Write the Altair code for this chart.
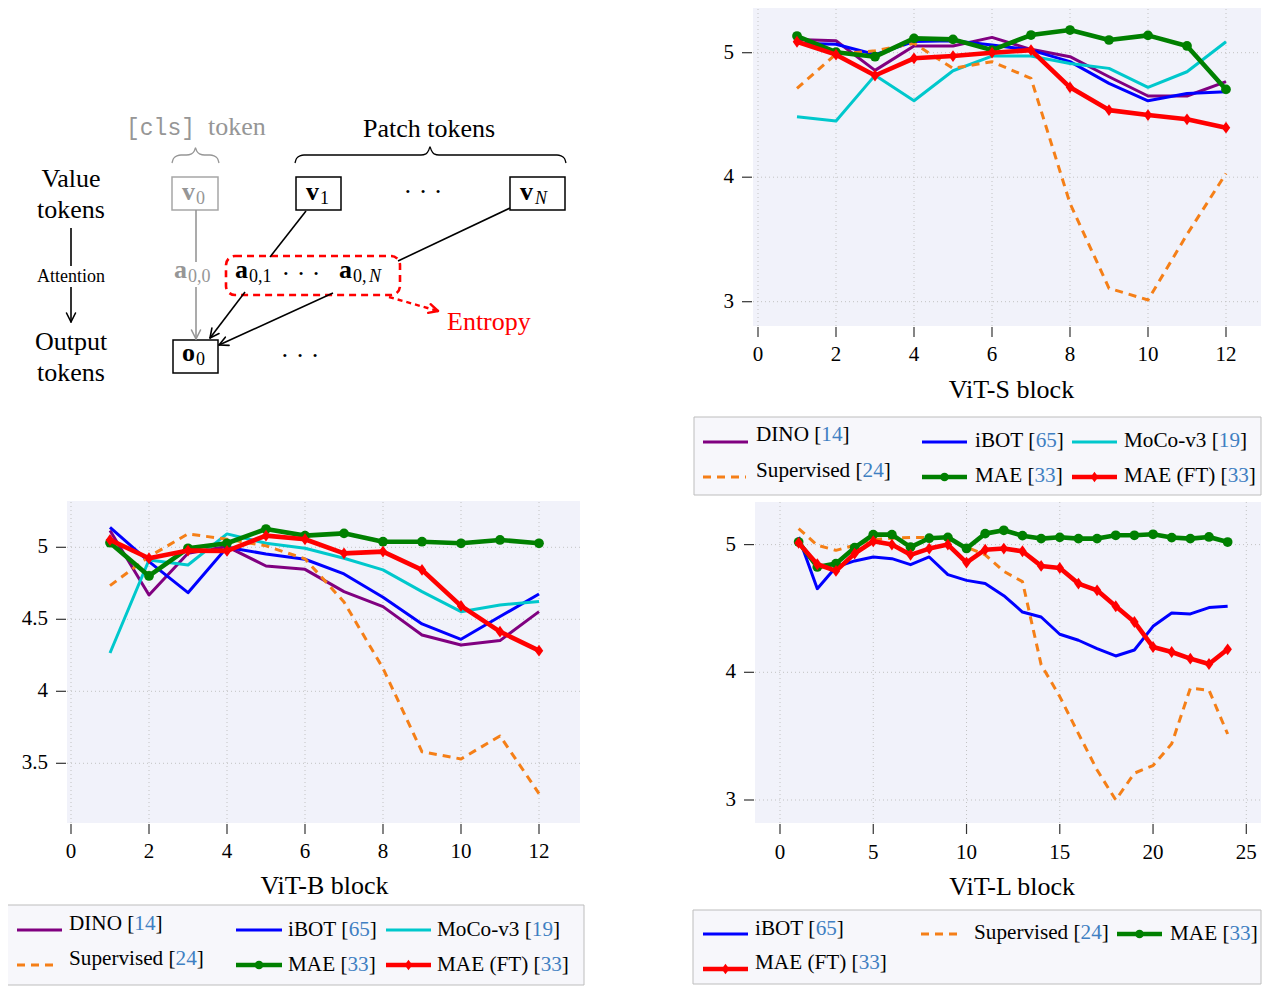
import math
import altair as alt
import pandas as pd

# ---------------- data ----------------
blocks_s = list(range(1, 13))
s_dino = [5.107, 5.096, 4.858, 5.054, 5.054, 5.123, 5.027, 4.968, 4.807, 4.652, 4.652, 4.767]
s_ibot = [5.075, 5.068, 4.985, 5.090, 5.096, 5.062, 5.021, 4.928, 4.754, 4.614, 4.673, 4.687]
s_moco = [4.486, 4.451, 4.818, 4.614, 4.855, 4.973, 4.973, 4.914, 4.874, 4.722, 4.847, 5.088]
s_sup = [4.714, 4.990, 5.015, 5.075, 4.874, 4.928, 4.794, 3.790, 3.108, 3.014, 3.540, 4.030]
s_mae = [5.134, 5.004, 4.968, 5.115, 5.107, 5.021, 5.142, 5.182, 5.102, 5.139, 5.054, 4.705]
s_maeft = [5.088, 4.984, 4.817, 4.955, 4.973, 5.000, 5.021, 4.722, 4.539, 4.499, 4.465, 4.398]

blocks_b = list(range(1, 13))
b_dino = [5.116, 4.669, 4.958, 5.005, 4.870, 4.847, 4.692, 4.588, 4.391, 4.322, 4.352, 4.553]
b_ibot = [5.139, 4.900, 4.685, 5.000, 4.954, 4.917, 4.815, 4.653, 4.468, 4.361, 4.519, 4.676]
b_moco = [4.266, 4.912, 4.877, 5.093, 5.028, 4.993, 4.924, 4.843, 4.692, 4.553, 4.600, 4.623]
b_sup = [4.734, 4.935, 5.093, 5.056, 5.010, 4.920, 4.620, 4.160, 3.580, 3.530, 3.690, 3.290]
b_mae = [5.032, 4.801, 4.993, 5.028, 5.127, 5.081, 5.097, 5.039, 5.039, 5.028, 5.051, 5.028]
b_maeft = [5.051, 4.924, 4.977, 4.975, 5.081, 5.056, 4.958, 4.970, 4.843, 4.593, 4.414, 4.282]

blocks_l = list(range(1, 25))
l_ibot = [5.060, 4.655, 4.825, 4.872, 4.903, 4.890, 4.843, 4.903, 4.765, 4.720, 4.695, 4.600,
          4.472, 4.433, 4.298, 4.251, 4.186, 4.128, 4.175, 4.360, 4.464, 4.457, 4.507, 4.517]
l_sup = [5.125, 4.995, 4.955, 4.995, 5.039, 5.050, 5.055, 5.055, 5.040, 4.980, 4.920, 4.790,
         4.710, 4.060, 3.810, 3.520, 3.235, 3.000, 3.210, 3.270, 3.440, 3.875, 3.860, 3.517]
l_mae = [5.020, 4.825, 4.851, 4.976, 5.078, 5.078, 4.980, 5.050, 5.057, 4.970, 5.086, 5.112,
         5.070, 5.047, 5.057, 5.047, 5.047, 5.073, 5.073, 5.081, 5.055, 5.047, 5.060, 5.020]
l_maeft = [5.013, 4.846, 4.794, 4.929, 5.026, 5.000, 4.920, 4.969, 5.000, 4.859, 4.960, 4.969,
           4.948, 4.833, 4.817, 4.695, 4.642, 4.517, 4.394, 4.198, 4.159, 4.107, 4.065, 4.180]

ticks_sb_x = [0, 2, 4, 6, 8, 10, 12]
ticks_l_x = [0, 5, 10, 15, 20, 25]
ticks_s_y = [3, 4, 5]
labels_s_y = ["3", "4", "5"]
ticks_b_y = [3.5, 4, 4.5, 5]
labels_b_y = ["3.5", "4", "4.5", "5"]

# ---------------- styles ----------------
FONT = "Liberation Serif"
MONO = "Liberation Mono"
PLOT_BG = "#f1f2fa"
LEG_BG = "#f7f7fb"
LEG_EDGE = "#bdbdbd"
GRID = "#c2c2c2"
CITE = "#3f7fc2"
GRAY = "#969696"
RED = "#ff0000"

STY = {
    "DINO": {"color": "#800080", "width": 3.0, "ref": "14"},
    "iBOT": {"color": "#0000ff", "width": 3.0, "ref": "65"},
    "MoCo-v3": {"color": "#00c8cc", "width": 3.0, "ref": "19"},
    "Supervised": {"color": "#f57f17", "width": 3.0, "ref": "24", "dash": [8, 6]},
    "MAE": {"color": "#008000", "width": 4.6, "ref": "33", "marker": "circle"},
    "MAE (FT)": {"color": "#ff0000", "width": 4.6, "ref": "33", "marker": "diamond"},
}
DIAMOND = "M0,-1L0.72,0L0,1L-0.72,0Z"
MSHAPE = {"circle": "circle", "diamond": DIAMOND}
MSIZE = {"circle": 95, "diamond": 140}

OFF = 8
WID, HEI = 1254, 978

PANELS = [
    dict(xv=(0, 12), xp=(758, 1226), yv=(3, 5), yp=(301.7, 52.7), box=(753, 1261, 8, 326),
         xticks=ticks_sb_x, yticks=ticks_s_y, ylabels=labels_s_y,
         title="ViT-S block", title_x=6.5, title_dy=64, lab_dy=29,
         series=[("DINO", blocks_s, s_dino), ("iBOT", blocks_s, s_ibot),
                 ("MoCo-v3", blocks_s, s_moco), ("Supervised", blocks_s, s_sup),
                 ("MAE", blocks_s, s_mae), ("MAE (FT)", blocks_s, s_maeft)]),
    dict(xv=(0, 12), xp=(71, 539), yv=(3.5, 5), yp=(763.3, 547.3), box=(67, 580, 501, 823),
         xticks=ticks_sb_x, yticks=ticks_b_y, ylabels=labels_b_y,
         title="ViT-B block", title_x=6.5, title_dy=63, lab_dy=29,
         series=[("DINO", blocks_b, b_dino), ("iBOT", blocks_b, b_ibot),
                 ("MoCo-v3", blocks_b, b_moco), ("Supervised", blocks_b, b_sup),
                 ("MAE", blocks_b, b_mae), ("MAE (FT)", blocks_b, b_maeft)]),
    dict(xv=(0, 25), xp=(780, 1246.3), yv=(3, 5), yp=(800, 544.6), box=(755, 1261, 502, 823),
         xticks=ticks_l_x, yticks=ticks_s_y, ylabels=labels_s_y,
         title="ViT-L block", title_x=12.45, title_dy=64, lab_dy=30,
         series=[("iBOT", blocks_l, l_ibot), ("Supervised", blocks_l, l_sup),
                 ("MAE", blocks_l, l_mae), ("MAE (FT)", blocks_l, l_maeft)]),
]

LEGENDS = [
    dict(box=(694, 417, 1261, 495), items=[
        ("DINO", 703, 748, 442, 756, 435), ("iBOT", 922, 967, 442, 975, 441),
        ("MoCo-v3", 1072, 1117, 442, 1124, 441), ("Supervised", 703, 746, 477, 756, 471),
        ("MAE", 922, 967, 477, 975, 476), ("MAE (FT)", 1072, 1117, 477, 1124, 476)]),
    dict(box=(7, 905, 584, 985), items=[
        ("DINO", 17, 62, 930, 69, 924), ("iBOT", 236, 282, 930, 288, 930),
        ("MoCo-v3", 386, 431, 930, 437, 930), ("Supervised", 17, 59, 965, 69, 959),
        ("MAE", 236, 282, 965, 288, 965), ("MAE (FT)", 386, 431, 965, 437, 965)]),
    dict(box=(693, 910, 1261, 984), items=[
        ("iBOT", 703, 748, 934, 755, 929), ("Supervised", 921, 963, 934, 974, 933),
        ("MAE", 1117, 1162, 934, 1170, 934), ("MAE (FT)", 703, 748, 969, 755, 963)]),
]

# Times-like glyph widths (per 1000 em) for placing mixed-colour legend text
GW = {' ': 250, '[': 333, ']': 333, '(': 333, ')': 333, '-': 333,
      'A': 722, 'B': 667, 'C': 667, 'D': 722, 'E': 611, 'F': 556, 'I': 333, 'M': 889,
      'N': 722, 'O': 722, 'S': 556, 'T': 611, 'a': 444, 'b': 500, 'c': 444, 'd': 500,
      'e': 444, 'i': 278, 'k': 500, 'l': 278, 'n': 500, 'o': 500, 'p': 500, 'r': 333,
      's': 389, 't': 278, 'u': 500, 'v': 500, 'y': 500}


def tw(s, size):
    return sum(GW.get(c, 500) for c in s) * size / 1000.0


def inv(vs, ps, p):
    return vs[0] + (p - ps[0]) * (vs[1] - vs[0]) / (ps[1] - ps[0])


# ---------------- panels ----------------
def panel_layers(P):
    xs = alt.Scale(domain=list(P["xv"]), range=[P["xp"][0] - OFF, P["xp"][1] - OFF], nice=False, zero=False)
    ys = alt.Scale(domain=list(P["yv"]), range=[P["yp"][0] - OFF, P["yp"][1] - OFF], nice=False, zero=False)
    X = lambda f: alt.X(f + ":Q", scale=xs, axis=None)
    Y = lambda f: alt.Y(f + ":Q", scale=ys, axis=None)
    L, R, T, B = P["box"]
    x1, x2 = inv(P["xv"], P["xp"], L), inv(P["xv"], P["xp"], R)
    yb, yt = inv(P["yv"], P["yp"], B), inv(P["yv"], P["yp"], T)
    out = []
    bg = pd.DataFrame({"a": [x1], "b": [x2], "c": [yb], "d": [yt]})
    out.append(alt.Chart(bg).mark_rect(color=PLOT_BG).encode(x=X("a"), x2="b", y=Y("c"), y2="d"))
    gx = pd.DataFrame({"v": P["xticks"], "c": yb, "d": yt})
    out.append(alt.Chart(gx).mark_rule(color=GRID, strokeWidth=1, strokeDash=[1, 3])
               .encode(x=X("v"), y=Y("c"), y2="d"))
    gy = pd.DataFrame({"v": P["yticks"], "a": x1, "b": x2})
    out.append(alt.Chart(gy).mark_rule(color=GRID, strokeWidth=1, strokeDash=[1, 3])
               .encode(y=Y("v"), x=X("a"), x2="b"))
    yt_df = pd.DataFrame({"v": P["yticks"], "a": x1, "t": P["ylabels"]})
    out.append(alt.Chart(yt_df).mark_rule(color="#333333", strokeWidth=1.2, xOffset=-11, x2Offset=-1)
               .encode(x=X("a"), x2="a", y=Y("v")))
    out.append(alt.Chart(yt_df).mark_text(align="right", baseline="middle", dx=-19, font=FONT,
                                          fontSize=21, color="black")
               .encode(x=X("a"), y=Y("v"), text="t:N"))
    xt_df = pd.DataFrame({"v": P["xticks"], "c": yb, "t": [str(v) for v in P["xticks"]]})
    out.append(alt.Chart(xt_df).mark_rule(color="#333333", strokeWidth=1.2, yOffset=1, y2Offset=11)
               .encode(x=X("v"), y=Y("c"), y2="c"))
    out.append(alt.Chart(xt_df).mark_text(align="center", baseline="middle", dy=P["lab_dy"], font=FONT,
                                          fontSize=21, color="black")
               .encode(x=X("v"), y=Y("c"), text="t:N"))
    ti = pd.DataFrame({"v": [P["title_x"]], "c": [yb], "t": [P["title"]]})
    out.append(alt.Chart(ti).mark_text(align="center", baseline="middle", dy=P["title_dy"], font=FONT,
                                       fontSize=26, color="black")
               .encode(x=X("v"), y=Y("c"), text="t:N"))
    for name, xsv, vals in P["series"]:
        st = STY[name]
        df = pd.DataFrame({"x": xsv, "y": vals})
        kw = dict(color=st["color"], strokeWidth=st["width"], strokeJoin="round")
        if "dash" in st:
            kw["strokeDash"] = st["dash"]
        out.append(alt.Chart(df).mark_line(**kw).encode(x=X("x"), y=Y("y")))
        if "marker" in st:
            m = st["marker"]
            out.append(alt.Chart(df).mark_point(shape=MSHAPE[m], filled=True, size=MSIZE[m],
                                                color=st["color"], opacity=1)
                       .encode(x=X("x"), y=Y("y")))
    return out


# ---------------- page-coordinate annotations (diagram, legends) ----------------
PXS = alt.Scale(domain=[OFF, OFF + WID], range=[0, WID], nice=False, zero=False)
PYS = alt.Scale(domain=[OFF, OFF + HEI], range=[0, HEI], nice=False, zero=False)


def px(f):
    return alt.X(f + ":Q", scale=PXS, axis=None)


def py(f):
    return alt.Y(f + ":Q", scale=PYS, axis=None)


TEXTS, SEGS, RECTS, PATHS, POINTS = [], [], [], [], []


def add_text(t, x, y, size=26, color="black", weight="normal", font=FONT, style="normal",
             align="left", baseline="alphabetic"):
    TEXTS.append(dict(t=t, x=x, y=y, key=(size, color, weight, font, style, align, baseline)))


def add_seg(x, y, x2, y2, color="black", width=1.6, dash=None, cap="butt"):
    SEGS.append(dict(x=x, y=y, x2=x2, y2=y2, key=(color, width, tuple(dash) if dash else None, cap)))


def add_arrow(x1, y1, x2, y2, color="black", width=1.6, dash=None, L=9.0, Wd=4.5):
    add_seg(x1, y1, x2, y2, color, width, dash)
    n = math.hypot(x2 - x1, y2 - y1)
    ux, uy = (x2 - x1) / n, (y2 - y1) / n
    bx, by = x2 - L * ux, y2 - L * uy
    nx, ny = -uy, ux
    add_seg(x2, y2, bx + Wd * nx, by + Wd * ny, color, width, None, "round")
    add_seg(x2, y2, bx - Wd * nx, by - Wd * ny, color, width, None, "round")


def add_rect(x, y, x2, y2, fill="white", stroke="black", width=1.5, dash=None, radius=0, fop=1.0):
    RECTS.append(dict(x=x, y=y, x2=x2, y2=y2, fill=fill, stroke=stroke, width=width,
                      dash=dash, radius=radius, fop=fop))


def add_brace(x0, x1, xm, yb, ym, yt, color):
    pts = [(x0, yb), (x0 + 1.5, yb - 4.5), (x0 + 5, ym + 0.8), (x0 + 9, ym),
           (xm - 9, ym), (xm - 4, ym - 1.2), (xm - 1.2, yt + 3), (xm, yt),
           (xm + 1.2, yt + 3), (xm + 4, ym - 1.2), (xm + 9, ym),
           (x1 - 9, ym), (x1 - 5, ym + 0.8), (x1 - 1.5, yb - 4.5), (x1, yb)]
    PATHS.append(dict(pts=pts, color=color, width=1.3))


# --- diagram ---
add_text("[cls]", 126, 135, size=23, color=GRAY, font=MONO)
add_text("token", 208, 135, color=GRAY)
add_text("Patch tokens", 429, 137, align="center")
add_brace(172, 219, 195.5, 163, 155, 148, GRAY)
add_brace(295, 566, 430, 163, 155, 147, "black")
add_text("Value", 71, 187, align="center")
add_text("tokens", 71, 218, align="center")
add_seg(71, 228, 71, 266)
add_text("Attention", 71, 282, size=18, align="center")
add_arrow(71, 287, 71, 322)
add_text("Output", 71, 350, align="center")
add_text("tokens", 71, 381, align="center")

add_seg(306, 211, 270, 257)
add_seg(510, 208, 398, 261)
add_seg(196, 210, 196, 262, color=GRAY)
add_arrow(196, 287, 196, 339, color=GRAY)
add_arrow(245, 292, 210, 338)
add_arrow(333, 293, 219, 345)
add_arrow(389, 297, 438, 311, color=RED, width=2.4, dash=[5, 4])

add_rect(172, 177, 218, 210, stroke="#a6a6a6")
add_rect(296, 177, 341, 210)
add_rect(510, 177, 565, 210)
add_rect(173, 340, 218, 373)
add_rect(226, 256, 400, 295, stroke=RED, width=2.6, dash=[7, 5], radius=9, fop=0.0)

add_text("v", 182, 200, weight="bold", color=GRAY)
add_text("0", 196, 204, size=18, color=GRAY)
add_text("v", 306, 200, weight="bold")
add_text("1", 320, 204, size=18)
add_text("v", 520, 200, weight="bold")
add_text("N", 535, 204, size=18, style="italic")
add_text("· · ·", 423, 200, align="center")
add_text("a", 174, 278, weight="bold", color=GRAY)
add_text("0,0", 188, 282, size=18, color=GRAY)
add_text("a", 235, 278, weight="bold")
add_text("0,1", 249, 282, size=18)
add_text("· · ·", 301, 282, align="center")
add_text("a", 339, 278, weight="bold")
add_text("0,", 353, 282, size=18)
add_text("N", 369, 282, size=18, style="italic")
add_text("o", 182, 361, weight="bold")
add_text("0", 196, 365, size=18)
add_text("· · ·", 300, 364, align="center")
add_text("Entropy", 447, 330, color=RED)

# --- legends ---
LSZ = 21.2
for LEG in LEGENDS:
    bx0, by0, bx1, by1 = LEG["box"]
    add_rect(bx0, by0, bx1, by1, fill=LEG_BG, stroke=LEG_EDGE, width=1.0)
    for name, lx0, lx1, ly, tx, ty in LEG["items"]:
        st = STY[name]
        add_seg(lx0, ly, lx1, ly, st["color"], st["width"], st.get("dash"))
        if "marker" in st:
            POINTS.append(dict(x=(lx0 + lx1) / 2, y=ly, key=(st["marker"], st["color"])))
        head = name + " ["
        add_text(head, tx, ty, size=LSZ, baseline="middle")
        x_ref = tx + tw(head, LSZ)
        add_text(st["ref"], x_ref, ty, size=LSZ, color=CITE, baseline="middle")
        add_text("]", x_ref + tw(st["ref"], LSZ), ty, size=LSZ, baseline="middle")


def page_layers():
    out = []
    for r in RECTS:
        kw = dict(fill=r["fill"], fillOpacity=r["fop"], stroke=r["stroke"], strokeWidth=r["width"])
        if r["dash"]:
            kw["strokeDash"] = r["dash"]
        if r["radius"]:
            kw["cornerRadius"] = r["radius"]
        df = pd.DataFrame([{k: r[k] for k in ("x", "y", "x2", "y2")}])
        out.append(alt.Chart(df).mark_rect(**kw).encode(x=px("x"), x2="x2", y=py("y"), y2="y2"))
    for p in PATHS:
        df = pd.DataFrame({"x": [a for a, b in p["pts"]], "y": [b for a, b in p["pts"]],
                           "i": list(range(len(p["pts"])))})
        out.append(alt.Chart(df).mark_line(color=p["color"], strokeWidth=p["width"], interpolate="monotone")
                   .encode(x=px("x"), y=py("y"), order="i:Q"))
    groups = {}
    for s in SEGS:
        groups.setdefault(s["key"], []).append(s)
    for (color, width, dash, cap), rows in groups.items():
        kw = dict(color=color, strokeWidth=width, strokeCap=cap)
        if dash:
            kw["strokeDash"] = list(dash)
        df = pd.DataFrame([{k: r[k] for k in ("x", "y", "x2", "y2")} for r in rows])
        out.append(alt.Chart(df).mark_rule(**kw).encode(x=px("x"), y=py("y"), x2="x2", y2="y2"))
    groups = {}
    for p in POINTS:
        groups.setdefault(p["key"], []).append(p)
    for (m, color), rows in groups.items():
        df = pd.DataFrame([{"x": r["x"], "y": r["y"]} for r in rows])
        out.append(alt.Chart(df).mark_point(shape=MSHAPE[m], filled=True, size=MSIZE[m] * 0.8,
                                            color=color, opacity=1)
                   .encode(x=px("x"), y=py("y")))
    groups = {}
    for t in TEXTS:
        groups.setdefault(t["key"], []).append(t)
    for (size, color, weight, font, style, align, baseline), rows in groups.items():
        df = pd.DataFrame([{"x": r["x"], "y": r["y"], "t": r["t"]} for r in rows])
        out.append(alt.Chart(df).mark_text(fontSize=size, color=color, fontWeight=weight, font=font,
                                           fontStyle=style, align=align, baseline=baseline)
                   .encode(x=px("x"), y=py("y"), text="t:N"))
    return out


layers = []
for P in PANELS:
    layers.extend(panel_layers(P))
layers.extend(page_layers())

chart = (alt.layer(*layers)
         .resolve_scale(x="independent", y="independent")
         .properties(width=WID, height=HEI, padding=0, background="white",
                     autosize=alt.AutoSizeParams(type="none"))
         .configure_view(strokeWidth=0))

chart.save("out.html", embed_options={"renderer": "svg", "actions": False})
